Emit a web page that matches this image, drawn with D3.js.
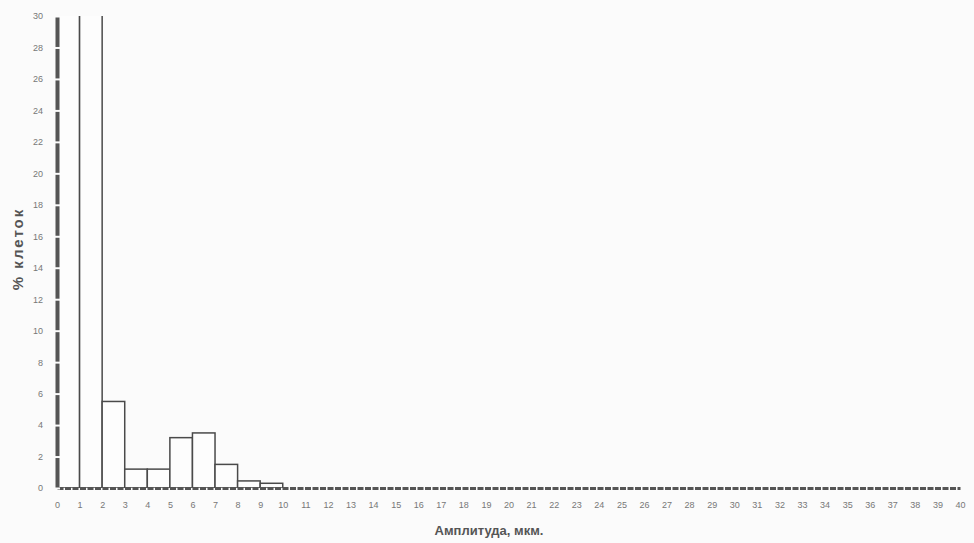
<!doctype html>
<meta charset="utf-8">
<script src="https://d3js.org/d3.v7.min.js"></script>
<style>
body { margin: 0; background: #fbfbfb; }
</style>
<body>
<script>

var width = 974;
var height = 543;

// distribution of cell amplitudes, % of cells per 1 µm bin
var binStarts = [0, 1, 2, 3, 4, 5, 6, 7, 8, 9];
var percents = [36, 33, 5.5, 1.2, 1.2, 3.2, 3.5, 1.5, 0.45, 0.3];
var xTicks = d3.range(0, 41);
var yTicks = [0, 2, 4, 6, 8, 10, 12, 14, 16, 18, 20, 22, 24, 26, 28, 30];

var svg = d3.select("body").append("svg")
    .attr("width", width)
    .attr("height", height)
    .style("font-family", "'Liberation Sans', sans-serif");

svg.append("rect").attr("width", width).attr("height", height).attr("fill", "#fbfbfb");

var x = d3.scaleLinear().domain([0, 40]).range([57, 960]);
var y = d3.scaleLinear().domain([0, 30]).range([488, 16]);

svg.append("clipPath").attr("id", "plot")
    .append("rect")
    .attr("x", x(0)).attr("y", y(30))
    .attr("width", x(40) - x(0)).attr("height", y(0) - y(30));

svg.append("g").attr("clip-path", "url(#plot)")
    .selectAll("rect")
    .data(binStarts)
    .enter().append("rect")
    .attr("x", function(d) { return x(d); })
    .attr("y", function(d, i) { return y(percents[i]); })
    .attr("width", function(d) { return x(d + 1) - x(d); })
    .attr("height", function(d, i) { return y(0) - y(percents[i]); })
    .attr("fill", "#fdfdfd")
    .attr("stroke", "#4a4a4a")
    .attr("stroke-width", 1.5);

// x axis
var xAxis = svg.append("g")
    .attr("transform", "translate(0," + y(0) + ")")
    .call(d3.axisBottom(x).tickValues(xTicks).tickSize(0).tickPadding(14));
xAxis.select(".domain")
    .attr("stroke", "#555")
    .attr("stroke-width", 3)
    .attr("stroke-dasharray", "6,1.5");
xAxis.selectAll("text")
    .attr("fill", "#777")
    .attr("font-size", 9);

// y axis
var yAxis = svg.append("g")
    .attr("transform", "translate(" + x(0) + ",0)")
    .call(d3.axisLeft(y).tickValues(yTicks).tickSize(0).tickPadding(14));
yAxis.select(".domain")
    .attr("stroke", "#555")
    .attr("stroke-width", 4);
yAxis.selectAll(".tick line")
    .attr("x1", -3).attr("x2", 3)
    .attr("stroke", "#fbfbfb")
    .attr("stroke-width", 2);
yAxis.selectAll("text")
    .attr("fill", "#777")
    .attr("font-size", 9);

svg.append("text")
    .attr("x", 489)
    .attr("y", 535)
    .attr("text-anchor", "middle")
    .attr("font-weight", "bold")
    .attr("font-size", 13)
    .attr("fill", "#555")
    .text("Амплитуда, мкм.");

svg.append("text")
    .attr("transform", "translate(23,249) rotate(-90)")
    .attr("text-anchor", "middle")
    .attr("font-weight", "bold")
    .attr("font-size", 15)
    .attr("letter-spacing", 2)
    .attr("fill", "#555")
    .text("% клеток");

</script>
